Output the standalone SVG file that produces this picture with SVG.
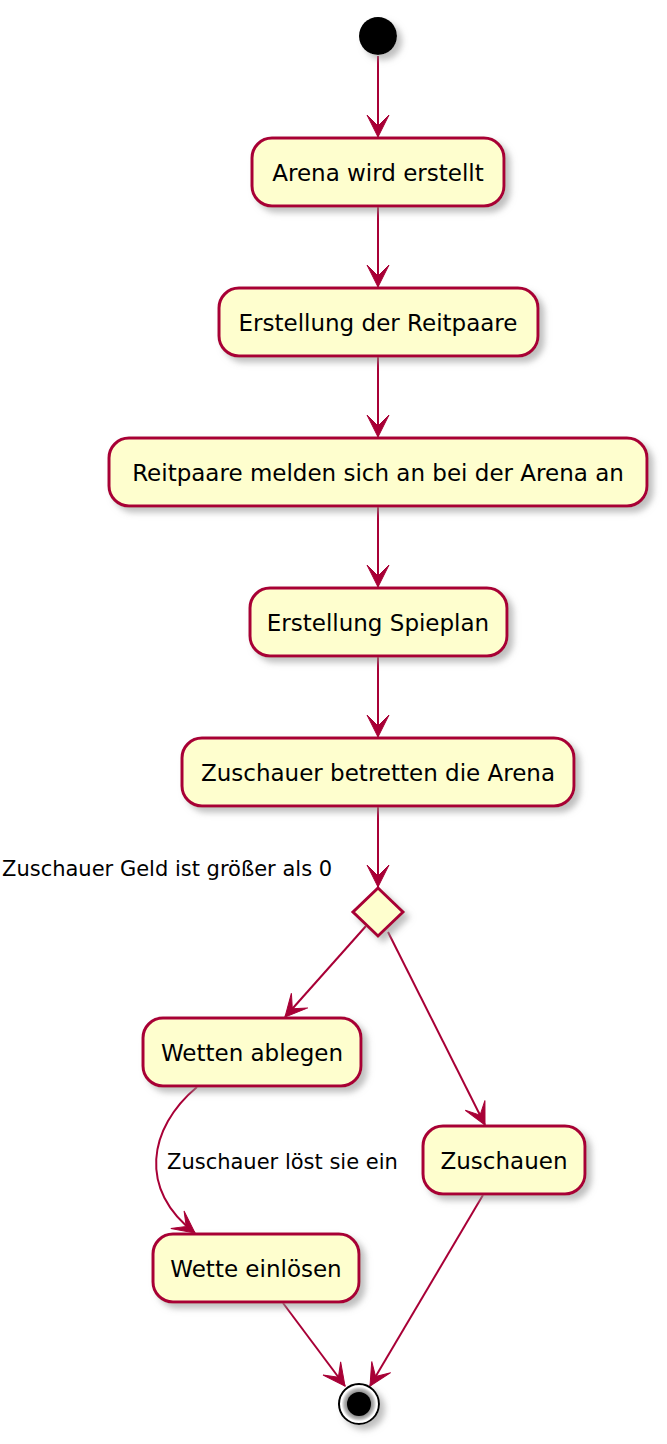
<svg xmlns="http://www.w3.org/2000/svg" width="667" height="1444" viewBox="0 0 667 1444">
<style>
.box{fill:#FEFECE;stroke:#A80036;stroke-width:3;filter:url(#sh)}
.t{font-family:"DejaVu Sans",sans-serif;font-size:23px;fill:#000;text-anchor:middle}
.l{font-family:"DejaVu Sans",sans-serif;font-size:21px;fill:#000}
.c{fill:none;stroke:#A80036;stroke-width:2;marker-end:url(#ah)}
</style>
<defs>
<filter id="sh" x="-20%" y="-20%" width="150%" height="160%">
<feGaussianBlur in="SourceAlpha" stdDeviation="3"/>
<feOffset dx="5" dy="5" result="b"/>
<feColorMatrix in="b" type="matrix" values="0 0 0 0 0.3  0 0 0 0 0.3  0 0 0 0 0.3  0 0 0 0.6 0" result="s"/>
<feMerge><feMergeNode in="s"/><feMergeNode in="SourceGraphic"/></feMerge>
</filter>
<radialGradient id="rg" cx="0.5" cy="0.5" r="0.5">
<stop offset="0.6" stop-color="#777"/>
<stop offset="0.85" stop-color="#bbb"/>
<stop offset="1" stop-color="#fff"/>
</radialGradient>
<marker id="ah" markerUnits="userSpaceOnUse" viewBox="-25 -15 30 30" markerWidth="30" markerHeight="30" refX="0" refY="0" orient="auto" overflow="visible">
<path d="M0,0 L-22,-11 L-11,0 L-22,11 Z" fill="#A80036" stroke="#A80036" stroke-width="1"/>
</marker>
</defs>
<g id="connectors">
<path class="c" d="M378,56 L378,137"/>
<path class="c" d="M378,207 L378,287"/>
<path class="c" d="M378,357 L378,437"/>
<path class="c" d="M378,507 L378,587"/>
<path class="c" d="M378,657 L378,737"/>
<path class="c" d="M378,807 L378,887"/>
<path class="c" d="M366,926 L285,1017"/>
<path class="c" d="M388,932 L485,1125"/>
<path class="c" d="M197,1087 C148,1128 138,1190 195,1233"/>
<text class="l" x="167" y="1169">Zuschauer löst sie ein</text>
<path class="c" d="M283,1303 L345,1386"/>
<path class="c" d="M483,1195 L370,1386"/>
</g>
<g id="start"><circle cx="378" cy="36" r="19" fill="#000" filter="url(#sh)"/></g>
<g id="n1"><rect class="box" x="252" y="138" width="252" height="68" rx="20"/><text class="t" x="378" y="181">Arena wird erstellt</text></g>
<g id="n2"><rect class="box" x="219" y="288" width="319" height="68" rx="20"/><text class="t" x="378" y="331">Erstellung der Reitpaare</text></g>
<g id="n3"><rect class="box" x="109" y="438" width="538" height="68" rx="20"/><text class="t" x="378" y="481">Reitpaare melden sich an bei der Arena an</text></g>
<g id="n4"><rect class="box" x="250" y="588" width="257" height="68" rx="20"/><text class="t" x="378" y="631">Erstellung Spieplan</text></g>
<g id="n5"><rect class="box" x="182" y="738" width="392" height="68" rx="20"/><text class="t" x="378" y="781">Zuschauer betretten die Arena</text></g>
<g id="decision"><polygon class="box" points="378,888 403,912 378,936 353,912"/><text class="l" x="2" y="876">Zuschauer Geld ist größer als 0</text></g>
<g id="n6"><rect class="box" x="143" y="1018" width="218" height="68" rx="20"/><text class="t" x="252" y="1061">Wetten ablegen</text></g>
<g id="n7"><rect class="box" x="423" y="1126" width="162" height="68" rx="20"/><text class="t" x="504" y="1169">Zuschauen</text></g>
<g id="n8"><rect class="box" x="153" y="1234" width="206" height="68" rx="20"/><text class="t" x="256" y="1277">Wette einlösen</text></g>
<g id="end"><circle cx="359" cy="1404" r="20" fill="#fff" stroke="#000" stroke-width="2" filter="url(#sh)"/><circle cx="359" cy="1404" r="17.5" fill="url(#rg)"/><circle cx="359" cy="1404" r="12" fill="#000"/></g>
</svg>
